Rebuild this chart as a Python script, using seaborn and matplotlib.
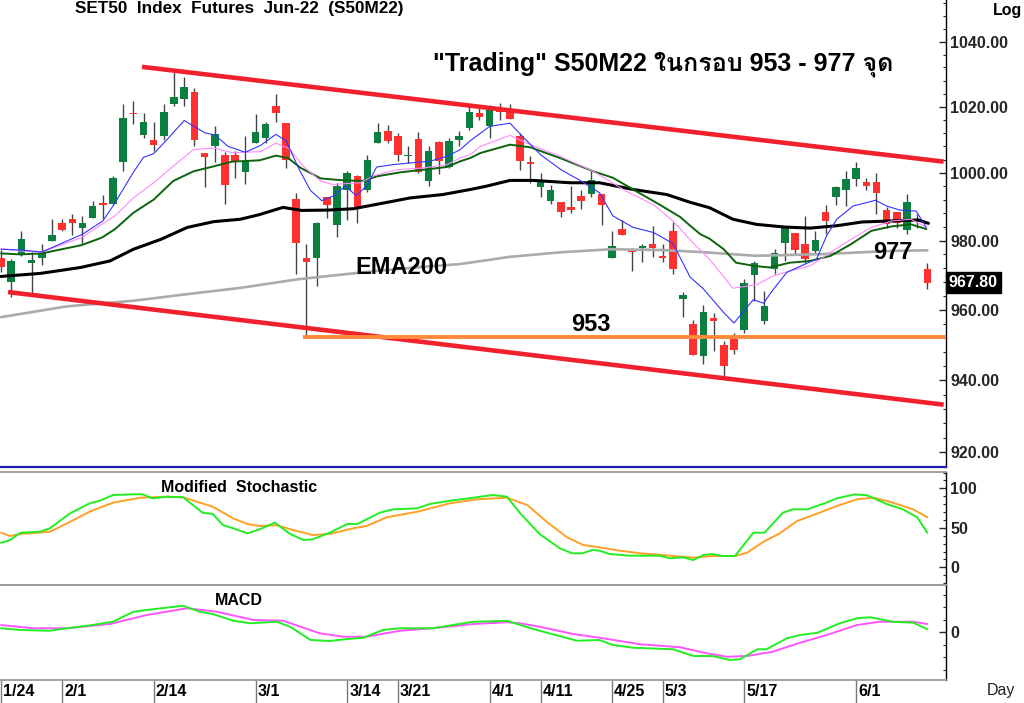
import numpy as np
import pandas as pd
import seaborn as sns
import matplotlib
matplotlib.use("Agg")
import matplotlib.pyplot as plt
from matplotlib import font_manager
from matplotlib.ft2font import FT2Font
from matplotlib.ticker import NullFormatter
from matplotlib.transforms import blended_transform_factory

# ---- candle data (trading day index 0 = 1/24) ----
opens = [975.0, 968.0, 976.0, 973.5, 975.0, 979.9, 985.3, 986.5, 983.8, 986.8,
         990.9, 990.9, 1003.4, 1018.2, 1011.4, 1010.0, 1011.0, 1020.9, 1022.4, 1024.6,
         1006.0, 1008.2, 1005.3, 1005.3, 1000.3, 1009.0, 1010.5, 1020.2, 1015.0, 992.3,
         975.0, 975.0, 992.9, 984.6, 994.9, 999.0, 995.0, 1009.0, 1012.5, 1011.0,
         1005.0, 1010.2, 997.6, 1009.3, 1001.7, 1010.0, 1013.6, 1018.1, 1014.1, 1018.5,
         1019.1, 1011.0, 1003.3, 995.8, 991.7, 991.5, 989.9, 993.3, 993.7, 993.7,
         975.0, 983.3, 977.1, 977.9, 979.0, 975.6, 982.9, 963.1, 955.9, 946.9,
         957.7, 949.9, 951.9, 954.2, 970.0, 956.7, 971.7, 979.3, 982.2, 979.1,
         976.9, 988.4, 992.8, 994.9, 998.2, 997.2, 997.2, 989.0, 988.5, 983.1,
         986.5, 971.9]
highs = [977.4, 974.6, 982.9, 976.8, 978.9, 986.3, 986.5, 987.7, 987.2, 991.7,
         993.5, 999.1, 1020.9, 1021.8, 1018.0, 1015.4, 1020.8, 1030.8, 1029.0, 1025.6,
         1006.0, 1014.2, 1006.2, 1006.5, 1011.0, 1017.7, 1015.2, 1023.8, 1015.0, 994.1,
         979.0, 985.6, 992.9, 997.0, 1000.5, 999.3, 1005.3, 1015.0, 1014.5, 1012.0,
         1008.0, 1012.2, 1008.0, 1009.5, 1010.5, 1012.5, 1020.8, 1019.6, 1020.6, 1021.2,
         1020.8, 1012.0, 1005.0, 999.9, 996.5, 991.5, 996.0, 995.0, 1000.5, 993.7,
         982.9, 986.1, 978.0, 979.0, 984.2, 979.0, 985.5, 965.2, 957.0, 961.5,
         959.0, 951.2, 953.5, 969.0, 974.2, 965.5, 977.5, 984.4, 982.2, 987.3,
         982.9, 990.6, 996.2, 1000.6, 1003.2, 998.6, 1000.0, 990.0, 988.5, 993.7,
         987.8, 973.6]
lows = [971.0, 963.8, 975.6, 964.7, 973.0, 979.9, 982.8, 981.6, 979.1, 986.8,
        986.3, 990.9, 1000.5, 1014.6, 1010.5, 1006.7, 1009.8, 1020.2, 1020.2, 1008.2,
        995.8, 1003.2, 990.9, 998.6, 996.8, 1009.0, 1009.0, 1015.4, 1001.4, 970.3,
        952.5, 966.9, 986.8, 981.2, 986.1, 985.3, 994.5, 1009.0, 1009.0, 1003.6,
        1003.1, 1000.0, 996.2, 999.8, 1001.4, 1008.2, 1012.8, 1016.0, 1010.5, 1016.0,
        1016.3, 1000.8, 997.0, 993.0, 990.7, 987.0, 988.0, 989.3, 993.0, 984.6,
        975.0, 981.6, 971.3, 973.8, 975.3, 973.8, 970.3, 957.9, 947.1, 944.6,
        948.3, 940.9, 947.4, 953.3, 962.6, 955.8, 970.3, 974.1, 975.8, 973.6,
        976.0, 982.0, 990.6, 990.2, 996.2, 994.9, 987.8, 983.8, 983.8, 982.0,
        983.8, 966.0]
closes = [972.4, 974.1, 980.4, 974.3, 976.5, 981.6, 983.1, 985.3, 985.3, 990.2,
          990.6, 998.6, 1016.7, 1017.8, 1015.4, 1008.3, 1018.5, 1023.1, 1026.0, 1010.0,
          1004.8, 1011.8, 996.4, 1003.6, 1003.6, 1012.2, 1014.7, 1018.2, 1004.0, 979.2,
          973.8, 985.1, 990.6, 996.2, 1000.0, 989.6, 1003.8, 1012.2, 1009.5, 1005.5,
          1005.5, 1000.3, 1006.5, 1003.7, 1009.7, 1011.2, 1018.4, 1016.8, 1019.1, 1018.3,
          1016.3, 1003.5, 1002.8, 997.6, 995.0, 988.3, 989.0, 991.8, 998.0, 990.4,
          978.4, 981.6, 976.7, 978.6, 978.0, 974.9, 971.9, 964.2, 947.1, 959.4,
          956.8, 944.1, 948.6, 967.7, 973.5, 961.0, 976.3, 984.0, 977.4, 974.6,
          980.2, 985.8, 995.8, 998.3, 1001.4, 996.2, 994.0, 985.0, 985.3, 991.5,
          986.0, 967.8]

# ---- moving averages ----
blue_x = [0, 2, 4, 8, 10, 11, 13, 14, 15, 16.3, 18, 20, 21, 22.3, 24, 25.5, 27, 28, 29.3, 30.4,
          31.5, 32.6, 33.8, 34.9, 35.9, 36.9, 38.5, 40.8, 42.1, 43.8, 45.1, 46.1, 48, 50, 51,
          53, 55, 57, 58.8, 60.1, 62.1, 64.1, 66, 67.7, 69, 71, 72, 73.9, 74.9, 75.9, 77.2,
          79, 80.1, 81.1, 82.1, 83.7, 85.9, 87, 88.3, 89.9, 90.9]
blue_y = [977.5, 977.3, 976.7, 981.9, 985.8, 990.2, 1000.2, 1004.7, 1005.8, 1010.0, 1015.8,
          1012.1, 1011.4, 1008.0, 1006.2, 1008.3, 1011.6, 1009.7, 1001.0, 994.8, 991.8, 993.1,
          996.1, 993.3, 996.1, 1001.8, 1002.5, 1003.2, 1003.5, 1005.0, 1007.0, 1009.7, 1014.0,
          1015.0, 1011.7, 1005.5, 1001.0, 997.6, 994.1, 987.3, 983.9, 982.4, 979.2, 969.4,
          966.0, 959.2, 956.2, 962.9, 961.9, 966.0, 970.8, 973.2, 974.6, 981.4, 986.3, 990.2,
          991.9, 990.2, 989.0, 988.7, 983.9]
pink_x = [0, 1.9, 4, 7.9, 9.9, 11.2, 13, 15, 16.9, 18.9, 20.9, 22.7, 25.5, 27, 28.3, 29.7,
          31.4, 32.6, 35.3, 36.6, 38.9, 41.5, 43.8, 45.1, 46.1, 47.1, 50, 52, 54.9, 58.2, 61.4,
          64.1, 66, 68, 69.6, 71.9, 74.2, 75.9, 77.5, 79.5, 81.5, 83.5, 85.5, 87.5, 89.4, 90.9]
pink_y = [977.7, 977.0, 976.7, 980.9, 984.8, 987.3, 992.6, 997.1, 1002.0, 1007.0, 1007.5,
          1006.1, 1006.4, 1009.0, 1007.3, 1002.0, 997.6, 996.6, 997.1, 999.2, 1001.0, 1001.5,
          1002.5, 1004.5, 1005.5, 1008.0, 1011.3, 1008.5, 1005.0, 1000.5, 994.6, 990.6, 985.8,
          979.3, 974.6, 966.2, 967.2, 969.8, 971.2, 972.7, 976.6, 980.4, 983.9, 985.8, 986.3,
          983.9]
dkgreen_x = [0, 1.9, 4, 7.9, 9.9, 11.2, 13, 15, 16.9, 18.9, 20.9, 22.7, 25.4, 27, 28.2, 29.4,
             30.4, 31.4, 33.3, 35.5, 36.9, 39.2, 41.5, 43.8, 45.1, 46.1, 47.1, 50, 52, 54.9,
             58.2, 60.1, 62.1, 64.7, 66.7, 67.7, 68.7, 69.6, 71, 72.2, 73.9, 75.5, 77.5, 79.5,
             81.5, 83.5, 85.5, 87.5, 89.4, 90.9]
dkgreen_y = [976.3, 976.0, 976.3, 978.7, 980.9, 983.4, 988.2, 992.1, 997.6, 1000.5, 1002.0,
             1003.4, 1003.8, 1005.2, 1004.5, 1001.6, 1000.0, 998.4, 997.9, 997.6, 999.0,
             1000.2, 1001.0, 1001.8, 1003.5, 1004.5, 1006.0, 1008.5, 1007.7, 1004.5, 1000.5,
             998.6, 995.1, 990.6, 987.0, 984.4, 981.9, 980.6, 977.5, 973.6, 972.7, 972.2,
             973.6, 974.1, 975.6, 979.0, 982.9, 984.2, 984.8, 983.4]
black_x = [0, 3.9, 7.8, 10.7, 13, 15.7, 18.3, 20.9, 23.5, 25.3, 27.7, 29.5, 32.1, 34.6, 36.9,
           40.2, 43.4, 46.1, 47.7, 50, 52.3, 55.9, 58.8, 62.1, 65.4, 67.7, 69.6, 71.9, 74.2,
           77, 79.5, 82.1, 84.6, 87.5, 90.1, 91.1]
black_y = [969.6, 970.5, 972.2, 974.1, 977.5, 980.4, 983.9, 985.6, 986.3, 987.6, 989.8, 988.9,
           989.0, 989.4, 990.7, 992.6, 993.6, 995.1, 996.1, 997.8, 997.8, 997.1, 997.1, 995.1,
           993.6, 991.3, 989.7, 986.3, 984.8, 984.0, 983.7, 984.4, 985.5, 985.8, 986.1, 985.1]
ema200_x = [0, 6.5, 13, 18.3, 23.5, 29.2, 35.9, 41, 45.1, 50, 54.9, 59.8, 64.7, 68.7, 74.2,
            80.8, 87.3, 91]
ema200_y = [957.9, 961.0, 962.6, 964.5, 966.3, 968.8, 970.9, 972.3, 973.2, 975.3, 976.6,
            977.5, 977.3, 976.7, 975.6, 976.1, 977.0, 977.2]

# ---- modified stochastic ----
stk_x = [0, 0.9, 1.9, 3.8, 4.8, 6.8, 8.7, 9.7, 11, 13, 13.9, 14.9, 16.3, 17.9, 19.8, 20.8,
         21.8, 22.8, 24.2, 25.4, 26.9, 28.4, 29.7, 30.6, 32.3, 34, 35, 37.2, 38.5, 40.9, 42.1,
         44.1, 46.4, 48.3, 49.7, 51, 52.9, 54.9, 56.1, 57.1, 58.1, 58.8, 59.8, 61.8, 64.7,
         65.7, 67, 68, 69, 69.9, 70.9, 72.1, 73.9, 75, 76.8, 77.8, 79.2, 80.9, 82.1, 83.9,
         85.1, 87, 88.6, 90, 91]
stk_y = [31, 34.5, 43.8, 45, 49.4, 68.4, 81, 84.3, 91.5, 92.4, 92.4, 87.3, 89.4, 88.6, 69.1,
         67.5, 53.5, 49.4, 43, 48.1, 56.5, 42.2, 34.6, 35.4, 43.8, 54.8, 54.8, 69.1, 73.4,
         74.7, 80.1, 84.3, 88.1, 91.5, 89.4, 68.4, 42.2, 24, 17.7, 17.7, 21.9, 21, 16.8, 14.7,
         14.7, 11.4, 12.7, 9.2, 15.6, 16.8, 14.3, 14.3, 43.8, 43.8, 69.1, 73.4, 73.4, 81,
         87.3, 92.4, 91.1, 80.1, 73.4, 63.3, 43.8]
std_x = [0, 0.9, 1.9, 4.8, 6.8, 8.7, 11, 13.7, 16.3, 17.9, 20.8, 22.8, 24.2, 25.4, 27.1, 28.7,
         30.6, 32.3, 34.6, 35.9, 37.9, 40.9, 44.1, 46.8, 49.7, 51.7, 53.6, 55.6, 57.2, 58.8,
         60.8, 62.8, 65, 68, 69.9, 72.1, 73.3, 74.9, 76.5, 78.2, 80.4, 82.1, 84.1, 85.7, 87.3,
         89.6, 91]
std_y = [43.8, 39.6, 42.2, 45, 57.7, 70.4, 81.8, 88.1, 89.4, 88.6, 76.7, 62, 54.8, 52.3, 53.2,
         47.2, 40.9, 42.2, 49.4, 52.3, 63.3, 70.4, 81, 86.1, 88.1, 78.9, 57.7, 38, 28.2, 25.3,
         21, 17.7, 15.6, 12.2, 14.3, 14.3, 18.5, 32.4, 43, 58.6, 69.1, 77.6, 86.1, 88.1, 83,
         73.4, 63.3]

# ---- MACD ----
macd_x = [0, 1.9, 4.8, 6.5, 9, 11, 13, 14.9, 17.9, 19.5, 20.8, 22.8, 24.5, 27.1, 28.4, 30.4,
          32.3, 34, 35.6, 37.5, 39.2, 42.4, 46.4, 49.7, 51, 52.9, 56.6, 58.8, 60.1, 62.1, 66,
          68, 69.9, 71.6, 72.6, 74.3, 75.2, 77.2, 78.5, 80.2, 82.4, 84.1, 85.4, 87.6, 89.6, 91]
macd_y = [1.6, 0.9, 0.6, 1.6, 2.9, 4.2, 8.2, 9.2, 10.6, 8.2, 7.3, 4.6, 3.6, 4.2, 2.2, -3.1,
          -3.5, -2.7, -2.2, 0.9, 1.6, 1.6, 4.2, 4.6, 2.9, 0.6, -3.4, -3.1, -5.1, -6.2, -6.8,
          -9.5, -9.5, -11.1, -10.8, -6.8, -6.8, -2.4, -1.1, -0.2, 3.6, 5.6, 6.0, 4.2, 3.8, 1.2]
sig_x = [0, 3.1, 6.5, 10.7, 14.3, 18.3, 21.2, 24.8, 27.7, 31.3, 33.6, 35.9, 39.2, 42.4, 46.4,
         49.7, 51, 52.9, 56.2, 58.8, 62.8, 66.7, 69.3, 71.3, 73.3, 75.8, 78.5, 81.1, 84.1,
         86.3, 89.6, 91]
sig_y = [2.9, 1.6, 1.6, 3.3, 6.9, 9.6, 8.2, 4.9, 4.6, -0.4, -1.8, -1.8, 0.6, 1.6, 3.3, 4.0,
         3.6, 2.2, -0.7, -2.2, -4.8, -6.0, -8.4, -9.8, -9.5, -7.8, -4.2, -1.1, 2.9, 4.2, 4.2, 3.3]

# ---- channel / levels ----
upper_x = [13.85, 92.6]
upper_y = [1032.2, 1003.4]
lower_x = [0.69, 92.6]
lower_y = [965.1, 933.2]
support_level = 952.3
support_start = 29.7

date_ticks = [0, 6, 15, 25, 34, 39, 48, 53, 60, 65, 73, 84]
date_labels = ["1/24", "2/1", "2/14", "3/1", "3/14", "3/21", "4/1", "4/11", "4/25", "5/3", "5/17", "6/1"]
price_ticks = [920, 940, 960, 980, 1000, 1020, 1040]

# ---- fonts: find one with Thai glyphs ----
def has_thai(path):
    try:
        return 0x0E01 in FT2Font(path).get_charmap()
    except Exception:
        return False

thai_font = "DejaVu Sans"
for f in font_manager.fontManager.ttflist:
    if has_thai(f.fname):
        thai_font = f.name
        break

sns.set_theme(style="white")
plt.rcParams["font.family"] = ["Liberation Sans", thai_font, "DejaVu Sans"]

df = pd.DataFrame({"o": opens, "h": highs, "l": lows, "c": closes})
df["idx"] = np.arange(len(df))
df["up"] = df["c"] >= df["o"]

fig = plt.figure(figsize=(10.24, 7.03), dpi=100)
W = 946 / 1024
ax = fig.add_axes([0, 236 / 703, W, 467 / 703])
ax2 = fig.add_axes([0, 118 / 703, W, 113.5 / 703])
ax3 = fig.add_axes([0, 23 / 703, W, 95 / 703])
XL = (-0.1, 92.83)

# ---- main price panel ----
ax.set_yscale("log")
body_lo = df[["o", "c"]].min(axis=1)
body_h = (df["c"] - df["o"]).abs().clip(lower=0.4)
colors = np.where(df["up"], "#0A7F3F", "#FF3030")
ax.vlines(df["idx"], df["l"], df["h"], color="#444444", lw=1, zorder=2)
ax.bar(df["idx"], body_h, bottom=body_lo, width=0.74, color=colors, linewidth=0, zorder=2.1)

sns.lineplot(x=ema200_x, y=ema200_y, ax=ax, color="#AAAAAA", lw=1.9, zorder=3)
sns.lineplot(x=black_x, y=black_y, ax=ax, color="black", lw=2.2, zorder=3)
sns.lineplot(x=dkgreen_x, y=dkgreen_y, ax=ax, color="#0B640B", lw=1.4, zorder=3)
sns.lineplot(x=pink_x, y=pink_y, ax=ax, color="#FF88FF", lw=0.8, zorder=3)
sns.lineplot(x=blue_x, y=blue_y, ax=ax, color="#3333FF", lw=0.8, zorder=3)
ax.plot(upper_x, upper_y, color="#F0202C", lw=3.3, solid_capstyle="butt", zorder=4)
ax.plot(lower_x, lower_y, color="#F0202C", lw=3.3, solid_capstyle="butt", zorder=4)
ax.hlines(support_level, support_start, XL[1] + 1, color="#FF8A3A", lw=2.8, zorder=4)

ax.set_xlim(*XL)
ax.set_ylim(916.4, 1053.0)
ax.set_yticks(price_ticks, labels=[f"{t:.2f}" for t in price_ticks])
ax.set_yticks([v for v in range(916, 1053, 4) if v % 20], minor=True)
ax.yaxis.set_minor_formatter(NullFormatter())

bold = dict(fontweight="bold", color="black")
ax.text(0.7008, 0.863, "\"Trading\" S50M22 ในกรอบ 953 - 977 จุด", transform=ax.transAxes,
        ha="center", va="center", fontsize=18, **bold)
ax.text(39.3, 972.3, "EMA200", ha="center", va="center", fontsize=17, **bold)
ax.text(57.9, 955.9, "953", ha="center", va="center", fontsize=17, **bold)
ax.text(87.6, 976.6, "977", ha="center", va="center", fontsize=17, **bold)
tr = blended_transform_factory(ax.transAxes, ax.transData)
ax.text(1.003, closes[-1], f"{closes[-1]:.2f}", transform=tr, ha="left", va="center",
        fontsize=11.5, fontweight="bold", color="white",
        bbox=dict(boxstyle="square,pad=0.18", fc="black", ec="black"), zorder=5)

# ---- stochastic panel ----
sns.lineplot(x=std_x, y=std_y, ax=ax2, color="#FFA024", lw=1.4)
sns.lineplot(x=stk_x, y=stk_y, ax=ax2, color="#22EE22", lw=1.4)
ax2.set_xlim(*XL)
ax2.set_ylim(-22.4, 121.3)
ax2.set_yticks([0, 50, 100])
ax2.set_yticks(range(-20, 121, 10), minor=True)
ax2.text(0.2526, 0.855, "Modified  Stochastic", transform=ax2.transAxes, ha="center",
         va="center", fontsize=11.5, **bold)

# ---- MACD panel ----
sns.lineplot(x=sig_x, y=sig_y, ax=ax3, color="#FF55FF", lw=1.4)
sns.lineplot(x=macd_x, y=macd_y, ax=ax3, color="#22EE22", lw=1.4)
ax3.set_xlim(*XL)
ax3.set_ylim(-19.1, 18.9)
ax3.set_yticks([0])
ax3.set_yticks(range(-15, 16, 5), minor=True)
ax3.text(0.2526, 0.832, "MACD", transform=ax3.transAxes, ha="center", va="center",
         fontsize=11.5, **bold)
ax3.set_xticks(date_ticks, labels=[""] * len(date_ticks))
ax3.tick_params(axis="x", which="major", bottom=True, direction="out", length=22,
                width=1, color="#7a7a7a")
trx = blended_transform_factory(ax3.transData, ax3.transAxes)
for t, lab in zip(date_ticks, date_labels):
    ax3.text(t + 0.2, -0.125, lab, transform=trx, ha="left", va="center", fontsize=11.5, **bold)

# ---- common styling ----
for a in (ax, ax2, ax3):
    a.set_xlabel("")
    a.set_ylabel("")
    a.yaxis.tick_right()
    a.tick_params(axis="y", which="major", direction="in", length=5, width=1, pad=3,
                  labelsize=11.5, right=True, left=False, labelright=True, labelleft=False)
    a.tick_params(axis="y", which="minor", direction="in", length=2.5, width=0.8, right=True, left=False)
    for lab in a.get_yticklabels():
        lab.set_fontweight("bold")
    a.spines["left"].set_visible(False)
    a.spines["right"].set_color("black")
    a.spines["right"].set_linewidth(1)
    a.spines["top"].set_color("#9a9a9a")
    a.spines["bottom"].set_color("#9a9a9a")
    a.spines["top"].set_linewidth(1.3)
    a.spines["bottom"].set_linewidth(1.3)
for a in (ax, ax2):
    a.tick_params(axis="x", which="both", bottom=False, labelbottom=False)
ax.spines["top"].set_visible(False)
ax.spines["bottom"].set_color("#1E1EA8")
ax.spines["bottom"].set_linewidth(1.6)

fig.text(75 / 1024, 694 / 703, "SET50  Index  Futures  Jun-22  (S50M22)", ha="left",
         va="center", fontsize=12.3, **bold)
fig.text(1022 / 1024, 693 / 703, "Log", ha="right", va="center", fontsize=11.5, **bold)
fig.text(1001 / 1024, 13 / 703, "Day", ha="center", va="center", fontsize=11.5, color="#222222")

fig.savefig("out.png", dpi=100)
